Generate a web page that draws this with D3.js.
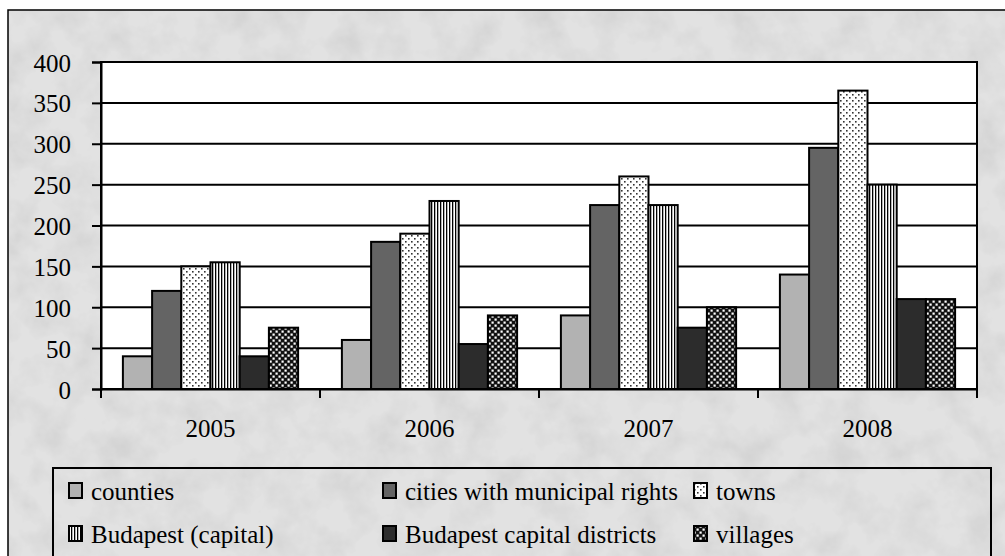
<!DOCTYPE html>
<html>
<head>
<meta charset="utf-8">
<script src="https://cdn.jsdelivr.net/npm/d3@7"></script>
<style>
html,body{margin:0;padding:0;background:#fff;}
svg{display:block;}
</style>
</head>
<body>
<svg id="chart" width="1005" height="556"></svg>
<script>
// ---- data ----
const years = ["2005", "2006", "2007", "2008"];
const seriesNames = ["counties", "cities with municipal rights", "towns", "Budapest (capital)", "Budapest capital districts", "villages"];
const counties = [40, 60, 90, 140];
const cities = [120, 180, 225, 295];
const towns = [150, 190, 260, 365];
const budapest = [155, 230, 225, 250];
const districts = [40, 55, 75, 110];
const villages = [75, 90, 100, 110];
const yTicks = [0, 50, 100, 150, 200, 250, 300, 350, 400];

const seriesValues = [counties, cities, towns, budapest, districts, villages];
const fills = ["#b2b2b2", "#646464", "url(#pTowns)", "url(#pStripes)", "#2c2c2c", "url(#pCheck)"];
const FONT = "Liberation Serif";
const FS = 25;

const svg = d3.select("#chart").attr("font-family", FONT).attr("font-size", FS);
const defs = svg.append("defs");

// background texture
const filt = defs.append("filter").attr("id", "marble").attr("x", 0).attr("y", 0).attr("width", "100%").attr("height", "100%");
filt.append("feTurbulence").attr("type", "fractalNoise").attr("baseFrequency", "0.03").attr("numOctaves", 4).attr("seed", 7).attr("result", "n");
filt.append("feColorMatrix").attr("in", "n").attr("type", "matrix")
  .attr("values", "0 0 0 0 0.6  0 0 0 0 0.6  0 0 0 0 0.6  1.3 0 0 0 -0.5").attr("result", "a");
filt.append("feFlood").attr("flood-color", "#e2e2e2").attr("result", "f");
filt.append("feComposite").attr("in", "a").attr("in2", "f").attr("operator", "over");

// patterns
const pT = defs.append("pattern").attr("id", "pTowns").attr("patternUnits", "userSpaceOnUse").attr("width", 6).attr("height", 6);
pT.append("rect").attr("width", 6).attr("height", 6).attr("fill", "#fff");
pT.append("rect").attr("x", 1).attr("y", 1).attr("width", 1.6).attr("height", 1.6).attr("fill", "#333");
pT.append("rect").attr("x", 4).attr("y", 4).attr("width", 1.6).attr("height", 1.6).attr("fill", "#333");

const pS = defs.append("pattern").attr("id", "pStripes").attr("patternUnits", "userSpaceOnUse").attr("width", 3).attr("height", 3);
pS.append("rect").attr("width", 3).attr("height", 3).attr("fill", "#fff");
pS.append("rect").attr("x", 0).attr("width", 1.3).attr("height", 3).attr("fill", "#000");

const pC = defs.append("pattern").attr("id", "pCheck").attr("patternUnits", "userSpaceOnUse").attr("width", 6).attr("height", 6);
pC.append("rect").attr("width", 6).attr("height", 6).attr("fill", "#111");
pC.append("rect").attr("x", 0.5).attr("y", 0.5).attr("width", 2.2).attr("height", 2.2).attr("fill", "#fff");
pC.append("rect").attr("x", 3.5).attr("y", 3.5).attr("width", 2.2).attr("height", 2.2).attr("fill", "#fff");

// background
svg.append("rect").attr("x", 0).attr("y", 0).attr("width", 1005).attr("height", 556).attr("fill", "#fff");
svg.append("rect").attr("x", 8).attr("y", 10).attr("width", 1010).attr("height", 560)
  .attr("fill", "#d9d9d9").attr("filter", "url(#marble)");
svg.append("rect").attr("x", 8).attr("y", 10).attr("width", 1010).attr("height", 560)
  .attr("fill", "none").attr("stroke", "#000").attr("stroke-width", 1.5);

// scales
const plot = { left: 101, right: 977, top: 62, bottom: 389 };
const x0 = d3.scaleBand().domain(years).range([plot.left, plot.right]).padding(0);
const x1 = d3.scaleBand().domain(d3.range(seriesNames.length)).range([0, x0.bandwidth()])
  .paddingInner(0).paddingOuter(0.75);
const y = d3.scaleLinear().domain([0, 400]).range([plot.bottom, plot.top]);

// plot area
svg.append("rect").attr("x", plot.left).attr("y", plot.top)
  .attr("width", plot.right - plot.left).attr("height", plot.bottom - plot.top)
  .attr("fill", "#fff").attr("stroke", "#000").attr("stroke-width", 2);

// gridlines
svg.append("g").selectAll("line").data(yTicks.filter(d => d > 0)).join("line")
  .attr("x1", plot.left).attr("x2", plot.right)
  .attr("y1", d => y(d)).attr("y2", d => y(d))
  .attr("stroke", "#000").attr("stroke-width", 2);

// bars
const groups = svg.append("g").selectAll("g").data(years).join("g")
  .attr("transform", d => `translate(${x0(d)},0)`);
groups.selectAll("rect")
  .data((yr, i) => seriesValues.map((vals, s) => ({ s, v: vals[i] })))
  .join("rect")
  .attr("x", d => x1(d.s))
  .attr("width", x1.bandwidth())
  .attr("y", d => y(d.v))
  .attr("height", d => y(0) - y(d.v))
  .attr("fill", d => fills[d.s])
  .attr("stroke", "#000").attr("stroke-width", 2);

// y axis
const yAxis = d3.axisLeft(y).tickValues(yTicks).tickSize(9).tickPadding(21);
const gy = svg.append("g").attr("transform", `translate(${plot.left},0)`).call(yAxis);
gy.attr("font-family", FONT).attr("font-size", FS);
gy.select(".domain").attr("stroke", "#000").attr("stroke-width", 2);
gy.selectAll(".tick line").attr("stroke", "#000").attr("stroke-width", 2);
gy.selectAll(".tick text").attr("fill", "#000").attr("dy", "0.36em")
  .attr("font-family", FONT).attr("font-size", FS);

// x axis (ticks at band boundaries, labels centred in bands)
const xAxis = d3.axisBottom(x0).tickSize(0).tickPadding(30);
const gx = svg.append("g").attr("transform", `translate(0,${plot.bottom})`).call(xAxis);
gx.attr("font-family", FONT).attr("font-size", FS);
gx.select(".domain").attr("stroke", "#000").attr("stroke-width", 2);
gx.selectAll(".tick text").attr("fill", "#000").attr("dy", "0.71em")
  .attr("font-family", FONT).attr("font-size", FS);
const bounds = years.map(d => x0(d)).concat([x0(years[years.length - 1]) + x0.bandwidth()]);
svg.append("g").selectAll("line").data(bounds).join("line")
  .attr("x1", d => d).attr("x2", d => d).attr("y1", plot.bottom).attr("y2", plot.bottom + 9)
  .attr("stroke", "#000").attr("stroke-width", 2);

// legend
svg.append("rect").attr("x", 53).attr("y", 468).attr("width", 938).attr("height", 120)
  .attr("fill", "none").attr("stroke", "#000").attr("stroke-width", 2);
const legCols = [68, 382, 693];
const legRows = [500, 543];
const legG = svg.append("g").attr("font-family", FONT).attr("font-size", FS);
const leg = legG.selectAll("g").data(seriesNames).join("g")
  .attr("font-family", FONT).attr("font-size", FS)
  .attr("transform", (d, i) => `translate(${legCols[i % 3]},${legRows[Math.floor(i / 3)]})`);
leg.append("rect").attr("x", 1).attr("y", -17).attr("width", 13).attr("height", 15)
  .attr("fill", (d, i) => fills[i]).attr("stroke", "#000").attr("stroke-width", 2);
leg.append("text").attr("x", 23).attr("y", 0)
  .attr("font-family", FONT).attr("font-size", FS).attr("fill", "#000")
  .text(d => d);
</script>
</body>
</html>
